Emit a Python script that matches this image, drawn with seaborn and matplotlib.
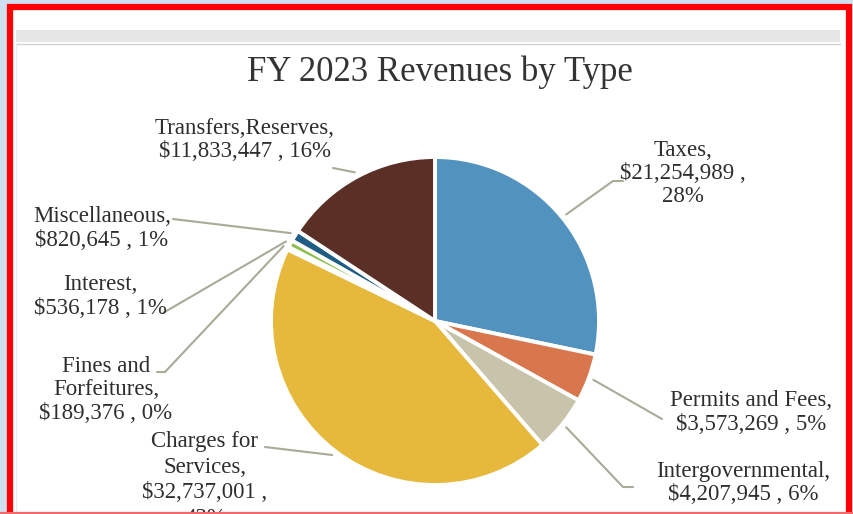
import numpy as np
import matplotlib
matplotlib.use("Agg")
import matplotlib.pyplot as plt
import seaborn as sns
from matplotlib.patches import Rectangle

# ---- data ----
categories = ["Taxes", "Permits and Fees", "Intergovernmental", "Charges for Services",
              "Fines and Forfeitures", "Interest", "Miscellaneous", "Transfers,Reserves"]
values = [21254989, 3573269, 4207945, 32737001, 189376, 536178, 820645, 11833447]
percent_labels = ["28%", "5%", "6%", "43%", "0%", "1%", "1%", "16%"]
title = "FY 2023 Revenues by Type"

# ---- style ----
sns.set_theme(style="white")
plt.rcParams["font.family"] = ["Liberation Serif", "DejaVu Serif"]
colors = sns.color_palette(["#5292bf", "#d8774d", "#c8c4ab", "#e6b83c",
                            "#eeeee6", "#8cbf4e", "#1f5d84", "#5a3026"])

W, H = 854, 514
def fy(y):
    return H - y

fig = plt.figure(figsize=(W / 100, H / 100), dpi=100)
fig.patch.set_facecolor("#cfe0f1")
ax = fig.add_axes([0, 0, 1, 1])
ax.set_facecolor("#cfe0f1")

# page with red frame (open at the bottom edge of the picture)
ax.add_patch(Rectangle((10, fy(530)), 839, 523, facecolor="white",
                       edgecolor="#ff0000", linewidth=4.5, zorder=0))
ax.plot([0, W], [fy(513), fy(513)], color="#f06a6a", lw=1.6, zorder=6)
ax.add_patch(Rectangle((16, fy(42)), 824, 12, facecolor="#e6e6e6",
                       edgecolor="none", zorder=0.5))
ax.plot([16, 840], [fy(43.5), fy(43.5)], color="#d2d2d2", lw=1, zorder=0.6)
ax.plot([16.5, 16.5], [fy(44), fy(512)], color="#ececec", lw=1, zorder=0.6)

# pie
cx, cy, r = 435, fy(321), 164
ax.pie(values, colors=colors, startangle=90, counterclock=False,
       center=(cx, cy), radius=r,
       wedgeprops=dict(edgecolor="white", linewidth=2.8))

total = float(sum(values))
cum = np.cumsum([0] + values[:-1])
mid_angles = [np.deg2rad(90 - 360 * (c + v / 2) / total) for c, v in zip(cum, values)]

# label layouts (text lines are built from data; positions are layout)
layout = {
    "Taxes": dict(x=683, y=150, step=23.5, lines=["Taxes,", "{val} ,", "{pct}"],
                  path=[(623, 181), (613, 181)]),
    "Permits and Fees": dict(x=751, y=400, step=24, lines=["Permits and Fees,", "{val} , {pct}"],
                             path=[(662, 419)]),
    "Intergovernmental": dict(x=743, y=471, step=24, lines=["Intergovernmental,", "{val} , {pct}"],
                              path=[(633, 487), (623, 487)]),
    "Charges for Services": dict(x=205, y=442, step=25.5,
                                 lines=["Charges for", "Services,", "{val} ,", "{pct}"],
                                 path=[(265, 447)]),
    "Fines and Forfeitures": dict(x=106, y=366, step=23.8,
                                  lines=["Fines and", "Forfeitures,", "{val} , {pct}"],
                                  path=[(157, 372), (165, 372)]),
    "Interest": dict(x=100, y=285, step=23.5, lines=["Interest,", "{val} , {pct}"],
                     path=[(163, 313)]),
    "Miscellaneous": dict(x=102, y=217, step=23.5, lines=["Miscellaneous,", "{val} , {pct}"],
                          path=[(173, 219)]),
    "Transfers,Reserves": dict(x=245, y=128, step=23.5, lines=["Transfers,Reserves,", "{val} , {pct}"],
                               path=[(333, 168)]),
}

line_col = "#a9aa98"
text_col = "#2e2e2e"
fs = 16.5
for cat, v, pct, ang in zip(categories, values, percent_labels, mid_angles):
    L = layout[cat]
    val = "${:,}".format(v)
    for i, ln in enumerate(L["lines"]):
        ax.text(L["x"], fy(L["y"] + i * L["step"]), ln.format(val=val, pct=pct),
                ha="center", va="center", fontsize=fs, color=text_col, zorder=5)
    ex = cx + 1.03 * r * np.cos(ang)
    ey = cy + 1.03 * r * np.sin(ang)
    xs = [p[0] for p in L["path"]] + [ex]
    ys = [fy(p[1]) for p in L["path"]] + [ey]
    ax.plot(xs, ys, color=line_col, lw=1.5, zorder=4, solid_capstyle="round")

ax.text(440, fy(72), title, ha="center", va="center", fontsize=25, color="#333333", zorder=5)

ax.set_xlim(0, W)
ax.set_ylim(0, H)
ax.set_aspect("auto")
ax.axis("off")

fig.savefig("out.png", dpi=100, facecolor=fig.get_facecolor())
